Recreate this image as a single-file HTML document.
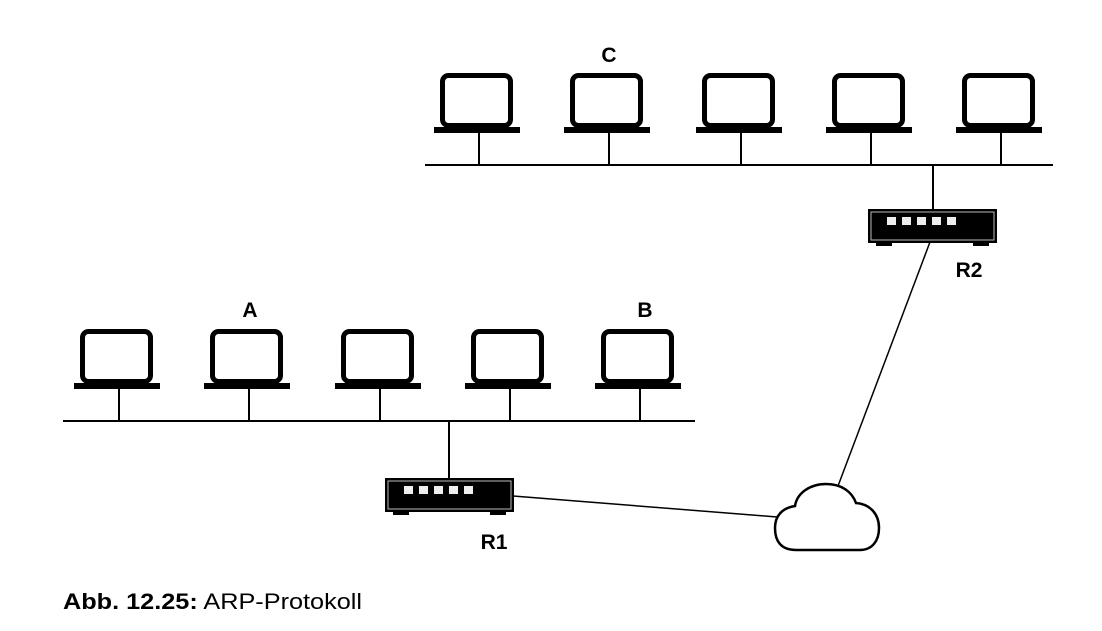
<!DOCTYPE html>
<html><head><meta charset="utf-8"><style>
html,body{margin:0;padding:0;background:#fff;}
svg{display:block;}
text{font-family:"Liberation Sans",sans-serif;}
</style></head><body>
<svg width="1102" height="631" viewBox="0 0 1102 631" xmlns="http://www.w3.org/2000/svg">
<defs>
<g id="lap">
  <rect x="-36.5" y="2.5" width="68" height="50" rx="6" fill="#fff" stroke="#000" stroke-width="5"/>
  <rect x="-45" y="54" width="86" height="6" fill="#000"/>
  <line x1="0" y1="60" x2="0" y2="92" stroke="#000" stroke-width="2"/>
</g>
<g id="rt">
  <rect x="0" y="0" width="129" height="34" fill="#000"/>
  <rect x="3" y="3" width="123" height="28" fill="none" stroke="#bbb" stroke-width="1"/>
  <rect x="19" y="8" width="9" height="8" fill="#eee"/>
  <rect x="34" y="8" width="9" height="8" fill="#eee"/>
  <rect x="49" y="8" width="9" height="8" fill="#eee"/>
  <rect x="64" y="8" width="9" height="8" fill="#eee"/>
  <rect x="79" y="8" width="9" height="8" fill="#eee"/>
  <rect x="8" y="34" width="16" height="3" fill="#000"/>
  <rect x="105" y="34" width="16" height="3" fill="#000"/>
</g>
</defs>
<g transform="translate(0,73)">
<use href="#lap" x="479"/><use href="#lap" x="609"/><use href="#lap" x="741"/><use href="#lap" x="871"/><use href="#lap" x="1001"/>
</g>
<line x1="425" y1="165" x2="1053" y2="165" stroke="#000" stroke-width="2"/>
<line x1="933" y1="165" x2="933" y2="209" stroke="#000" stroke-width="2"/>
<use href="#rt" x="868" y="209"/>
<g transform="translate(0,329)">
<use href="#lap" x="119"/><use href="#lap" x="249"/><use href="#lap" x="380"/><use href="#lap" x="510"/><use href="#lap" x="640"/>
</g>
<line x1="63" y1="421" x2="695" y2="421" stroke="#000" stroke-width="2"/>
<line x1="449" y1="421" x2="449" y2="478" stroke="#000" stroke-width="2"/>
<use href="#rt" x="385" y="478"/>
<line x1="513" y1="496" x2="777" y2="517" stroke="#000" stroke-width="1.5"/>
<line x1="930" y1="242" x2="838" y2="486" stroke="#000" stroke-width="1.5"/>
<path d="M796,550 C780,550 775,540 775,528 C775,516 782,508 795,506 C797,493 810,484 826,484 C842,484 852,492 856,503 C870,504 879,514 879,528 C879,541 872,550 860,550 Z" fill="#fff" stroke="#000" stroke-width="2.5"/>
<g font-weight="bold" font-size="21" text-anchor="middle">
<text x="609" y="62">C</text>
<text x="250" y="317">A</text>
<text x="645" y="317">B</text>
<text x="969" y="277">R2</text>
<text x="494" y="549">R1</text>
</g>
<text x="63" y="609" font-size="22" textLength="299" lengthAdjust="spacingAndGlyphs"><tspan font-weight="bold">Abb. 12.25:</tspan> ARP-Protokoll</text>
</svg>
</body></html>
